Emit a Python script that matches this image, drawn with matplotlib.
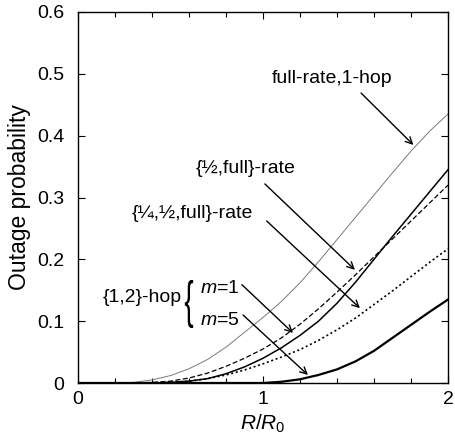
import matplotlib
matplotlib.use("Agg")
import matplotlib.pyplot as plt
from matplotlib.ticker import MultipleLocator
from matplotlib.textpath import TextPath
from matplotlib.font_manager import FontProperties
from matplotlib.patches import PathPatch
from matplotlib.transforms import Affine2D

plt.rcParams["font.family"] = ["Liberation Sans", "DejaVu Sans"]
plt.rcParams["mathtext.fontset"] = "custom"
plt.rcParams["mathtext.rm"] = "Liberation Sans"
plt.rcParams["mathtext.it"] = "Liberation Sans:italic"

# values (R/R0 -> outage probability)
r = [0.0, 0.1, 0.2, 0.3, 0.4, 0.5, 0.6, 0.7, 0.8, 0.9, 1.0,
     1.1, 1.2, 1.3, 1.4, 1.5, 1.6, 1.7, 1.8, 1.9, 2.0]
full_1hop = [0, 0, 0, 0.001, 0.005, 0.012, 0.023, 0.038, 0.058, 0.082, 0.106,
             0.132, 0.162, 0.196, 0.232, 0.268, 0.304, 0.340, 0.375, 0.407, 0.435]
half_full = [0, 0, 0, 0, 0.001, 0.003, 0.008, 0.016, 0.027, 0.040, 0.055,
             0.073, 0.095, 0.120, 0.147, 0.175, 0.204, 0.233, 0.262, 0.291, 0.320]
quarter_half_full = [0, 0, 0, 0, 0, 0.001, 0.003, 0.007, 0.013, 0.021, 0.031,
                     0.042, 0.054, 0.069, 0.086, 0.105, 0.127, 0.149, 0.172, 0.195, 0.217]
hop12_m1 = [0, 0, 0, 0, 0, 0.001, 0.003, 0.007, 0.015, 0.026, 0.040,
            0.057, 0.077, 0.100, 0.129, 0.163, 0.200, 0.237, 0.273, 0.309, 0.345]
hop12_m5 = [0, 0, 0, 0, 0, 0, 0, 0, 0, 0, 0,
            0.002, 0.006, 0.013, 0.022, 0.035, 0.052, 0.073, 0.094, 0.115, 0.135]

fig = plt.figure(figsize=(4.56, 4.43), dpi=100)
ax = fig.add_axes([78 / 456, 60 / 443, 370 / 456, 371 / 443])

ax.plot(r, full_1hop, color="#7a7a7a", lw=0.7)
ax.plot(r, half_full, color="black", lw=0.9, dashes=(4, 2))
ax.plot(r, quarter_half_full, color="black", lw=1.2, dashes=(1.2, 1.6))
ax.plot(r, hop12_m1, color="black", lw=1.1)
ax.plot(r, hop12_m5, color="black", lw=1.6)

ax.set_xlim(0, 2)
ax.set_ylim(0, 0.6)
ax.set_xticks([0, 1, 2])
ax.set_xticklabels(["0", "1", "2"])
ax.xaxis.set_minor_locator(MultipleLocator(0.2))
ax.set_yticks([0, 0.1, 0.2, 0.3, 0.4, 0.5, 0.6])
ax.set_yticklabels(["0", "0.1", "0.2", "0.3", "0.4", "0.5", "0.6"])
ax.tick_params(which="both", direction="in", top=True, right=True,
               labelsize=14, width=0.8)
ax.tick_params(which="major", length=5)
ax.tick_params(which="minor", length=3.5)
ax.tick_params(axis="y", pad=10)
ax.tick_params(axis="x", pad=6)
for s in ax.spines.values():
    s.set_linewidth(1.0)

ax.set_ylabel("Outage probability", fontsize=16.5, labelpad=4.5)
ax.set_xlabel("$R/R_0$", fontsize=15, labelpad=3)

arrow = dict(arrowstyle="->", lw=1.0, color="black",
             shrinkA=0, shrinkB=0, mutation_scale=12)
fs = 14
ax.text(1.373, 0.485, "full-rate,1-hop", fontsize=fs, ha="center", va="baseline")
ax.annotate("", xy=(1.813, 0.385), xytext=(1.53, 0.469), arrowprops=arrow)
ax.text(0.908, 0.340, "{½,full}-rate", fontsize=fs, ha="center", va="baseline")
ax.annotate("", xy=(1.497, 0.183), xytext=(1.01, 0.322), arrowprops=arrow)
ax.text(0.946, 0.267, "{¼,½,full}-rate", fontsize=fs, ha="right", va="baseline")
ax.annotate("", xy=(1.524, 0.121), xytext=(1.02, 0.262), arrowprops=arrow)
ax.text(0.66, 0.146, "$m$=1", fontsize=fs, ha="left", va="baseline")
ax.annotate("", xy=(1.162, 0.081), xytext=(0.886, 0.159), arrowprops=arrow)
ax.text(0.66, 0.094, "$m$=5", fontsize=fs, ha="left", va="baseline")
ax.annotate("", xy=(1.243, 0.013), xytext=(0.892, 0.110), arrowprops=arrow)
ax.text(0.56, 0.131, "{1,2}-hop", fontsize=fs, ha="right", va="baseline")

# tall thin brace: a "{" glyph stretched vertically
brace = TextPath((0, 0), "{", size=20, prop=FontProperties(family="Liberation Sans"))
ext = brace.get_extents()
sy = 48 / (ext.height / 72 * 100)
brace_tf = (Affine2D().translate(-ext.x0 - ext.width / 2, -ext.y0)
            .scale(1 / 72, sy / 72).translate(1.89, 1.15) + fig.dpi_scale_trans)
fig.patches.append(PathPatch(brace, transform=brace_tf, facecolor="black",
                             edgecolor="none"))

fig.savefig("out.png", dpi=100)
